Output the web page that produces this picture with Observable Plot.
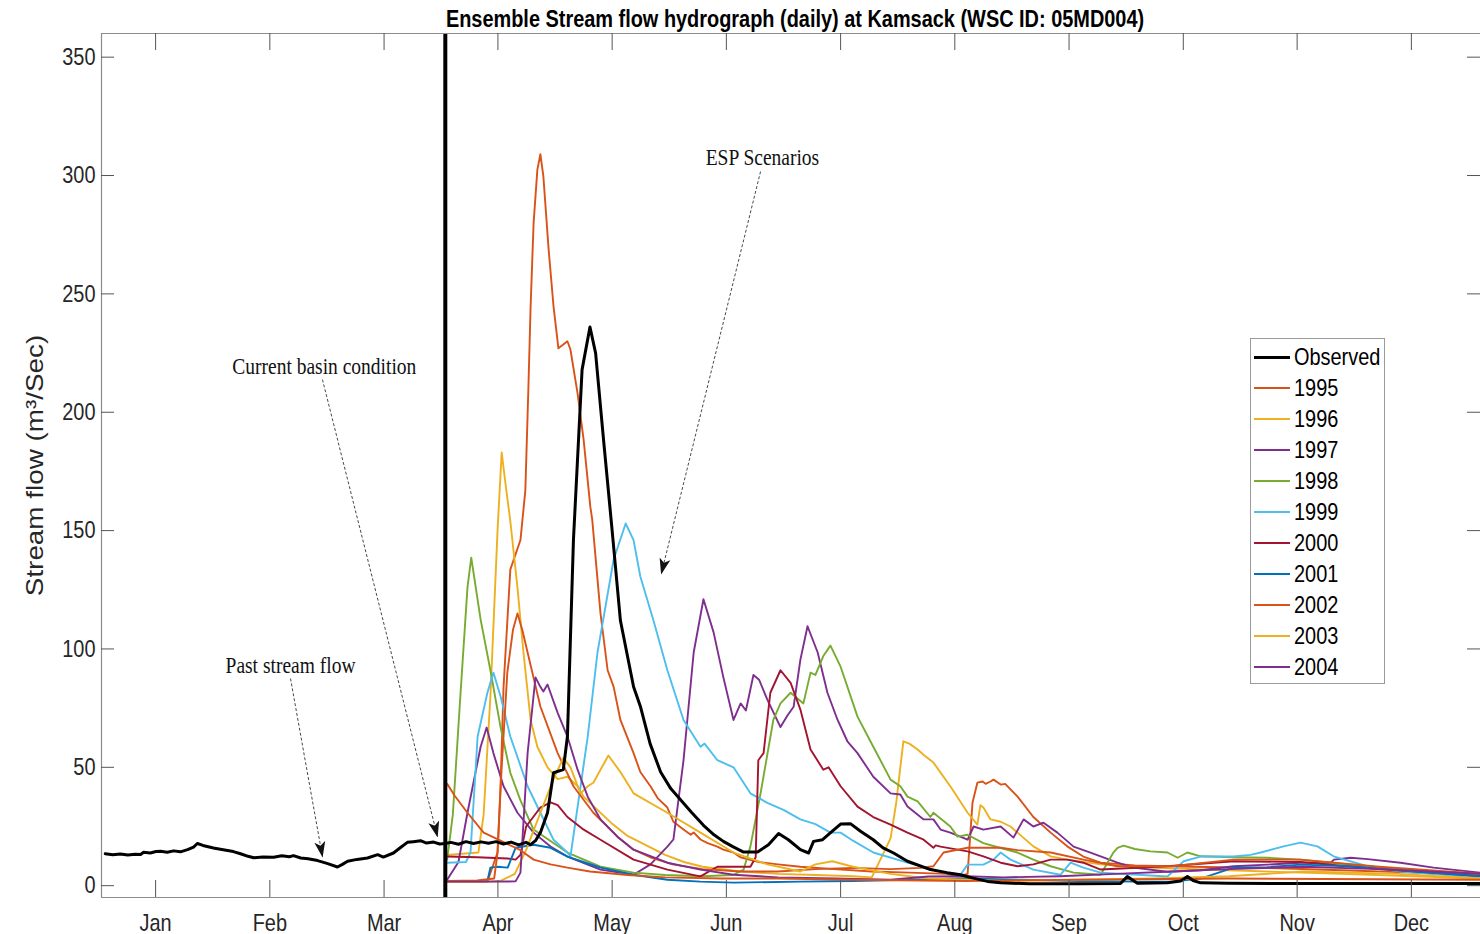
<!DOCTYPE html>
<html>
<head>
<meta charset="utf-8">
<script src="https://cdn.jsdelivr.net/npm/d3@7"></script>
<script src="https://cdn.jsdelivr.net/npm/@observablehq/plot@0.6"></script>
<style>
  html, body { margin: 0; padding: 0; background: #fff; overflow: hidden; }
  #wrap { position: relative; width: 1480px; height: 934px; }
  #legend { position: absolute; left: 1250px; top: 338px; width: 135px; height: 346px;
            border: 1px solid #9a9a9a; background: #fff; box-sizing: border-box; }
  #legend .row { position: absolute; left: 0; height: 24px; }
  #legend .swatch { position: absolute; left: 3px; width: 36px; top: 11px; }
  #legend .lab { position: absolute; left: 43px; top: 0; font: 24px Arial, "Liberation Sans", sans-serif;
                 line-height: 24px; color: #000; white-space: nowrap; transform: scaleX(0.83); transform-origin: 0 50%; }
</style>
</head>
<body>
<div id="wrap"></div>
<script>
// ---- axis definitions -------------------------------------------------------
const monthNames = ["Jan", "Feb", "Mar", "Apr", "May", "Jun", "Jul", "Aug", "Sep", "Oct", "Nov", "Dec"];
const monthTicks = [14.4, 44.8, 75.2, 105.5, 135.9, 166.3, 196.7, 227.1, 257.5, 287.9, 318.2, 348.6];
const yTicks = [0, 50, 100, 150, 200, 250, 300, 350];
const dayDomain = [0, 367];
const flowDomain = [-5, 360];
const forecastStart = 91.5; // start of the ensemble forecast (1 April)

// ---- observed flow (day, m3/s) ----------------------------------------------
const observed = [
  [1,13.5],[3,13.1],[5,13.4],[7,13.0],[9,13.3],[10.4,13.2],[11.2,14.1],[13,13.8],[14.5,14.4],[15.7,14.5],
  [17.5,14.1],[19.2,14.7],[21,14.3],[22.9,15.2],[24.5,16.3],[25.5,17.8],[27,17.0],[29.8,15.9],[32,15.3],
  [35.1,14.4],[37,13.5],[39,12.4],[40.5,11.8],[43,12.1],[45.8,12.0],[48,12.6],[50,12.2],[51.1,12.7],
  [53,11.7],[55,11.4],[57.5,10.6],[60,9.4],[62.8,7.9],[64,8.9],[65.5,10.3],[68,11.1],[70.8,11.7],
  [73.5,13.1],[75,12.1],[77.7,13.8],[79.5,16.0],[81.4,18.3],[83,18.6],[84.9,19.0],[86.5,18.0],[88.4,18.4],
  [90,17.6],[91.5,17.8],[93,18.3],[95,17.5],[97,18.6],[99,17.8],[101,18.5],[103,17.9],[105,18.6],
  [107,17.6],[109,18.4],[111,17.2],[113,18.3],[114.2,17.3],[115.5,19.0],[116.8,22.4],[118.7,30.8],
  [120.3,47.7],[122.9,49.0],[124,63],[125.6,146],[127.9,218],[130,236],[131.5,225],[133.6,188.5],
  [135.9,150],[138.1,112],[141.6,84],[143.4,75.8],[146,60],[148.8,48],[151.5,41],[154.1,36.3],[157,31],
  [160.2,25.5],[163,21.5],[165.5,18.7],[168,16.5],[170.9,14.2],[174.6,14.2],[177.5,17.3],[180.2,22],
  [182.8,19.4],[186,15.2],[188.2,13.8],[189.5,18.7],[191.9,19.4],[194.5,23],[196.7,26],[199.3,26.2],
  [202,23],[205.4,19.4],[208,16],[210.8,13.8],[214.5,10.3],[220.6,6.8],[225,5.5],[228.6,4.6],[232,3.2],
  [235.8,1.8],[239.3,1.2],[247,0.8],[260,0.8],[271.2,0.9],[273,3.9],[275.7,1.0],[280,1.1],[283.7,1.2],
  [287.2,2.0],[289,3.9],[290.5,2.2],[292.5,1.2],[300,1.0],[320,0.9],[345,0.9],[367,0.9]
];

// ---- ESP scenario traces (day, m3/s) ----------------------------------------
const flow1995 = [
  [92,1.5],[100,1.6],[102.7,1.7],[105.4,14],[106.2,42],[107,84],[108.8,133.5],[111.5,146],[112.8,167],
  [113.6,209.6],[114.2,244.7],[115,280],[116,302.5],[116.8,309],[117.6,299.6],[119,268.7],[120.3,244.7],
  [121.6,227],[124,230],[124.8,226.5],[126.7,208],[128.3,188.5],[130.1,160],[130.6,154.6],[132.8,115],
  [134.7,91],[136.3,84],[138.1,70],[141.6,56],[143.4,48],[146.1,42],[148,37],[150.6,33],[152.2,27],
  [154.9,23.7],[156.8,21.5],[157.6,22.5],[159.4,19.5],[161.3,18],[163.9,16.5],[165.5,15.2],[168.2,14],
  [170,12],[175,10],[180,9],[186,8],[195,7],[205,6],[215,5.5],[225,5],[228,4],[230.5,5],[231.8,35],
  [233.1,43.5],[234.5,44],[235.3,43],[236.6,44],[237.4,44.8],[239.3,42.7],[240.5,43],[243.8,37.6],
  [248,29],[252.6,22.4],[257.1,16.5],[261.3,12.3],[265.9,9.7],[275,8.5],[290,8],[310,7.5],[330,6.5],
  [350,5.5],[367,4]
];
const flow1996 = [
  [92,13],[96,13.5],[100.3,14],[101.7,30],[103.5,80],[105.4,150],[106.5,183],[107.5,170],[108.8,154],
  [110.7,126],[112.3,98.5],[114.2,70],[116,58.7],[118.7,50],[121.4,45],[124,46],[126.7,42],[128.3,37.6],
  [132,32],[136,26],[140,21],[145,17],[150,13],[155,10],[160,8],[170,6],[180,5],[190,4.5],[200,4],
  [205,3.5],[210,20],[211.5,35],[213.4,61],[215,60],[217.2,57.5],[219,55],[221.4,52],[225.9,42],
  [230.5,30.8],[233.1,25.8],[233.9,34],[234.7,33],[236.6,28],[239.3,27],[241.9,25],[243.8,22.4],
  [248,16.6],[252.6,12.4],[257.1,11],[265.9,9],[280,7.5],[300,6.5],[330,5],[367,3]
];
const flow1997 = [
  [92,2.5],[95,10],[97.4,30.8],[100.9,58.7],[102.5,66.8],[104.3,56],[107,42],[110.7,30.8],[115,22.4],
  [119.5,16.5],[124,12.3],[132.8,6.8],[141.6,4.6],[146.1,9],[150.6,16.5],[152.2,19.5],[154.9,53],
  [157.6,98.5],[160.2,121],[162.9,107],[165.5,88],[168.2,70],[170.1,77],[171.5,74],[173.5,89],[175,87],
  [177.2,78.6],[180.7,67],[182.6,72],[184.2,75.6],[186,95.5],[187.9,109.6],[190.6,98.5],[193.2,81.5],
  [195.9,70],[198.5,61],[201.2,56],[205.4,46],[210,39],[212.6,38.5],[214.5,33.4],[218.8,28],[221.4,28],
  [223.3,23.7],[225.9,22.4],[230.5,19.4],[232.1,25],[234.7,23.7],[239.3,25],[242.7,20.3],[245.4,28],
  [248,25],[250.7,26.6],[254.4,22.4],[258.7,16.5],[263.2,14],[270.4,9.7],[274.7,7.6],[283.7,5.9],
  [292.5,6.5],[301.3,8.2],[310.3,8.9],[319.1,9.7],[327.1,9.7],[328,11],[332.4,11.8],[337,11.2],
  [345.7,9.7],[354.5,7.6],[367,5.5]
];
const flow1998 = [
  [92,11],[93.5,30],[95.5,80],[97.4,126],[98.4,138.6],[100.9,112.4],[103.5,91],[106.2,67],[108.8,47.7],
  [111.5,36],[115,23.7],[124,14],[132.8,8],[141.6,5.5],[150,4.5],[160,4],[168,4.5],[170.9,6.8],
  [172.7,16.6],[175.4,39],[178.8,70],[180.7,77],[183.4,81.5],[184.5,80],[186.8,77],[188.7,90],[190,89],
  [192.1,97],[194,101.4],[196.7,92.5],[201.2,71.4],[205.4,58.7],[210,44.8],[212.6,42],[214.5,37.6],
  [217.2,35.6],[220.6,29],[221.4,30.8],[225.9,25],[227.8,20.7],[230.5,21.5],[234.7,18],[239.3,15.9],
  [243.8,14],[248,11],[252.6,8.2],[258.7,5.5],[265.9,4.6],[269.3,14],[270.4,16],[272,16.9],[275,15.5],
  [279.2,14.5],[283.7,14],[286.4,11.8],[289,14],[292.5,12.4],[301.3,12],[310.3,11.8],[319.1,11],
  [327.9,9.6],[336.9,8.2],[345.7,7],[354.5,6],[367,4.6]
];
const flow1999 = [
  [92,9.7],[97,10],[98.2,14],[100.1,63],[102.7,81.5],[104.3,90],[106.2,80],[108.8,63],[113.4,42],
  [116.8,30.8],[120.3,19.4],[124,14],[124.8,12.3],[127.5,42],[129.4,63],[132,98.5],[136.3,137.8],
  [139.5,153],[141.6,146],[143.4,130.6],[146.9,112],[150.6,91],[154.9,70],[159.4,58.7],[160.5,60],
  [163.9,53],[168.2,50],[172.7,39],[177.2,35],[181.5,32],[186,28],[190,26],[194,22.4],[196.7,22.4],
  [200,19],[205.4,14],[214.5,9.7],[223.3,5.9],[228.6,4.6],[230.5,8.9],[234.7,8.9],[237.4,11],[239.3,14],
  [241.9,11],[248,6.8],[255.2,4.6],[257.9,9.7],[261.3,7.6],[265.9,5.5],[283.7,3.9],[288,10.3],
  [292.5,12.3],[301.3,12.3],[305.8,13],[308.5,14],[314.6,16.6],[319.1,18.2],[323.6,16.6],[327.9,12.4],
  [336.9,8.2],[345.7,6],[367,3.4]
];
const flow2000 = [
  [92,12.3],[100,12],[108,11.5],[110.2,11],[111.5,13],[113,25],[116.8,33],[119.5,35.2],[121.4,34],
  [124,29],[128,24],[132.8,19.4],[141.6,11],[150.6,6.8],[159.4,3.9],[163.9,8],[172.7,8],[174.1,12],
  [174.8,53],[176.2,56],[178,81.5],[180.7,91],[183.4,85.7],[186,74.4],[188.7,57.5],[192.1,49],
  [193.5,50],[196.7,42],[201.2,33.4],[205.4,29],[210,25.8],[214.5,22.4],[218.8,19.4],[221.4,16],
  [222,17],[223.3,16.5],[230.5,14.5],[234.7,12.4],[239.3,9.7],[243.8,8.2],[248,9],[252.6,11],[257,11],
  [261.3,9.7],[265.9,6.8],[283.7,8.2],[301.3,10.3],[319.1,10],[340,7],[367,4]
];
const flow2001 = [
  [92,1.7],[100,1.7],[102.7,2],[103.5,7.6],[105.4,8],[108.1,7.6],[110.2,16],[115,17.3],[119.5,16],
  [124,12.3],[128.3,10],[132.8,7.6],[141.6,4.6],[150.6,2.5],[159.4,1.7],[168.2,1.3],[186,1.7],[200,2],
  [215,2.5],[230,3],[245,2.5],[260,2],[275,1.7],[285,1.7],[292.5,3],[301.3,7.6],[310.3,7.8],
  [319.1,8.9],[332.4,8.2],[350,6],[367,4]
];
const flow2002 = [
  [92,2],[100,2.2],[104.5,3],[105.4,14],[106.5,50],[108,90],[109.5,108],[110.7,115],[112,108],
  [113.4,98.5],[116.8,75.7],[121.4,56],[125.6,42],[130.9,30.8],[137.3,20.7],[141.6,15.2],[146,12],
  [152,9],[160,7],[170,6],[180,6],[190,7],[200,7.5],[210,7],[218,7.5],[221.4,8.2],[224.1,14],
  [230.5,16],[239.3,16],[243.8,15],[252.6,14],[261.3,11],[270.4,8.2],[285,8.2],[301.3,11],[319,11],
  [340,8],[367,5]
];
const flow2003 = [
  [92,1.5],[100,1.5],[106.2,2],[110,5],[113,15],[116.8,30.8],[120.3,45],[122.9,54],[124.8,50],
  [127.5,39],[129.4,42],[130.9,43.5],[134.9,55],[138.1,48],[141.6,39],[150.6,30.8],[159.4,22.4],
  [168.2,14],[177.2,9],[186,6],[190,9],[194.5,10.3],[200,8],[210,5],[220,3],[240,2],[260,2.5],[280,3],
  [300,4],[320,6],[345,5],[367,3]
];
const flow2004 = [
  [92,1.7],[100,1.7],[110.2,1.8],[111.5,5.5],[113.4,56],[115.5,88],[116.8,84],[117.6,82],[118.7,85],
  [121.4,73],[124,63],[126.7,49],[129.4,37.6],[132.8,28],[137.3,20.7],[141.6,15.2],[150.6,9.7],
  [159.4,6.8],[168.2,4.6],[180,3.5],[195,3],[210,2.5],[220,3.9],[230,4],[240,3.5],[255,4],[270,5],
  [285,6],[300,7],[320,8],[340,7],[367,5]
];
// further ensemble member drawn without a legend entry
const flow2009 = [
  [92,43],[94,38],[97.4,30.8],[101.7,22.4],[106.2,19],[111.5,15],[115,11],[119.5,9],[124,7.6],
  [130,6],[140,4.5],[150,3.5],[165,3],[180,3],[200,2.5],[230,2],[260,2.5],[300,3],[367,2.5]
];

const scenarioNames = ["1995", "1996", "1997", "1998", "1999", "2000", "2001", "2002", "2003", "2004", "2009"];
const scenarioFlows = [flow1995, flow1996, flow1997, flow1998, flow1999, flow2000, flow2001, flow2002, flow2003, flow2004, flow2009];
const scenarioColors = ["#D95319", "#EDB120", "#7E2F8E", "#77AC30", "#4DBEEE", "#A2142F", "#0072BD",
                        "#D95319", "#EDB120", "#7E2F8E", "#D95319"];
const legendNames = ["Observed", "1995", "1996", "1997", "1998", "1999", "2000", "2001", "2002", "2003", "2004"];

// ---- annotations ------------------------------------------------------------
const notes = [
  {t: 175.9, q: 307.6, label: "ESP Scenarios"},
  {t: 59.3, q: 219.3, label: "Current basin condition"},
  {t: 50.3, q: 93.0, label: "Past stream flow"}
];
const pointers = [
  {t1: 175.4, q1: 301.7, t2: 149.0, q2: 131.9},
  {t1: 58.8, q1: 213.8, t2: 89.4, q2: 20.8},
  {t1: 50.3, q1: 87.5, t2: 58.8, q2: 12.3}
];

// ---- tidy rows ----------------------------------------------------------------
const scenarioRows = scenarioNames.flatMap((name, i) =>
  scenarioFlows[i].map(([t, q]) => ({t, q, series: name})));
const observedRows = observed.map(([t, q]) => ({t, q}));

// ---- geometry helpers for inward ticks ---------------------------------------
const W = 1480, H = 934, mL = 101, mR = 0, mT = 33, mB = 37;
const pxPerDay = (W - mL - mR) / (dayDomain[1] - dayDomain[0]);
const pxPerFlow = (H - mT - mB) / (flowDomain[1] - flowDomain[0]);
const xTickLen = 17 / pxPerFlow;   // vertical ticks on the x axes
const yTickLen = 13 / pxPerDay;    // horizontal ticks on the y axes

const font = "Arial, 'Liberation Sans', Helvetica, sans-serif";
const serif = "'Liberation Serif', 'Times New Roman', Times, serif";

const chart = Plot.plot({
  width: W, height: H,
  marginLeft: mL, marginRight: mR, marginTop: mT, marginBottom: mB,
  x: {domain: dayDomain, axis: null},
  y: {domain: flowDomain, axis: null},
  color: {domain: scenarioNames, range: scenarioColors},
  style: {fontFamily: font, background: "white", color: "#262626", overflow: "visible"},
  marks: [
    // scenario traces
    Plot.line(scenarioRows, {x: "t", y: "q", z: "series", stroke: "series", strokeWidth: 1.9,
                             strokeLinejoin: "round", clip: true}),
    // observed flow
    Plot.line(observedRows, {x: "t", y: "q", stroke: "#000", strokeWidth: 3, strokeLinejoin: "round", clip: true}),
    // forecast start
    Plot.ruleX([forecastStart], {stroke: "#000", strokeWidth: 4}),
    // box
    Plot.ruleY([flowDomain[0], flowDomain[1]], {stroke: "#8c8c8c", strokeWidth: 1.2}),
    Plot.ruleX([dayDomain[0]], {stroke: "#8c8c8c", strokeWidth: 1.2}),
    // inward ticks
    Plot.ruleX(monthTicks, {y1: flowDomain[0], y2: flowDomain[0] + xTickLen, stroke: "#555"}),
    Plot.ruleX(monthTicks, {y1: flowDomain[1] - xTickLen, y2: flowDomain[1], stroke: "#555"}),
    Plot.ruleY(yTicks, {x1: dayDomain[0], x2: dayDomain[0] + yTickLen, stroke: "#555"}),
    Plot.ruleY(yTicks, {x1: dayDomain[1] - yTickLen, x2: dayDomain[1], stroke: "#555"}),
    // tick labels
    Plot.axisX({ticks: monthTicks, tickFormat: (d) => monthNames[monthTicks.indexOf(d)], tickSize: 0,
                tickPadding: 16, fontSize: 24, className: "squeeze", anchor: "bottom"}),
    Plot.axisY({ticks: yTicks, tickSize: 0, tickPadding: 6, fontSize: 24, className: "squeeze", anchor: "left"}),
    // y label
    Plot.text(["Stream flow (m³/Sec)"], {frameAnchor: "left", dx: -66, rotate: -90, fontSize: 24,
                                       textAnchor: "middle", lineAnchor: "middle",
                                       fill: "#262626", className: "ylab"}),
    // title
    Plot.text(["Ensemble Stream flow hydrograph (daily) at Kamsack (WSC ID: 05MD004)"],
              {frameAnchor: "top", dy: -14, dx: 4, fontSize: 24, fontWeight: "bold", fill: "#000",
               lineAnchor: "middle", textAnchor: "middle", className: "squeeze"}),
    // annotations
    Plot.link(pointers, {x1: "t1", y1: "q1", x2: "t2", y2: "q2", stroke: "#333", strokeWidth: 0.9,
                         strokeDasharray: "3,2", className: "pointer"}),
    Plot.text(notes, {x: "t", y: "q", text: "label", fontFamily: serif, fontSize: 23.5, fill: "#111",
                      className: "squeeze"})
  ]
});

// narrow the horizontal lettering, widen the rotated axis title
function restyle(node, sx, sy) {
  const t = node.getAttribute("transform") || "";
  node.setAttribute("transform", `${t} scale(${sx},${sy})`);
}
const svg = d3.select(chart);
svg.selectAll(".squeeze text").each(function () { restyle(this, 0.83, 1); });
svg.selectAll(".ylab text").each(function () { restyle(this, 1.16, 1); });

// filled arrowheads for the annotation pointers
const defs = svg.insert("defs", ":first-child");
defs.append("marker")
  .attr("id", "head").attr("viewBox", "0 -6 16 12").attr("refX", 15).attr("refY", 0)
  .attr("markerUnits", "userSpaceOnUse").attr("markerWidth", 16).attr("markerHeight", 12).attr("orient", "auto")
  .append("path").attr("d", "M0,-5.5L16,0L0,5.5L4,0Z").attr("fill", "#111");
svg.selectAll(".pointer path").attr("marker-end", "url(#head)");

const wrap = document.getElementById("wrap");
wrap.appendChild(chart);

// legend box
const legend = d3.select(wrap).append("div").attr("id", "legend");
legendNames.forEach((name, i) => {
  const color = i === 0 ? "#000" : scenarioColors[i - 1];
  const row = legend.append("div").attr("class", "row").style("top", `${6 + 31 * i}px`).style("width", "130px");
  row.append("div").attr("class", "swatch")
    .style("height", i === 0 ? "3px" : "2px")
    .style("margin-top", i === 0 ? "-0.5px" : "0")
    .style("background", color);
  row.append("div").attr("class", "lab").text(name);
});
</script>
</body>
</html>
